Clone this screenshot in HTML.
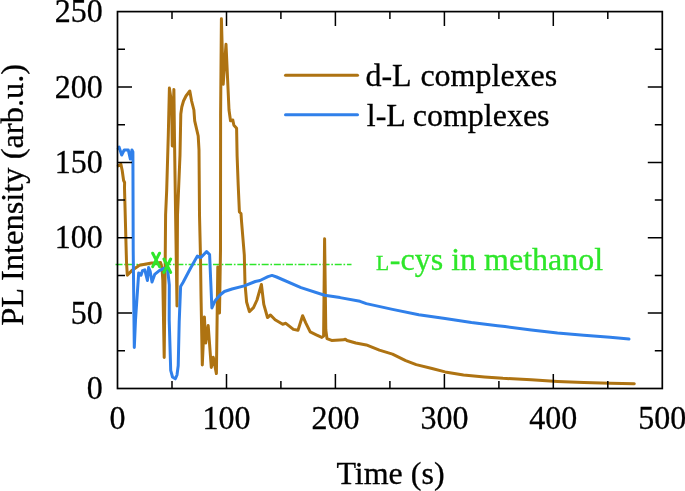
<!DOCTYPE html>
<html><head><meta charset="utf-8"><title>PL Intensity</title>
<style>
html,body{margin:0;padding:0;background:#fff;}
svg{display:block;will-change:transform;}
text{font-family:"Liberation Serif",serif;font-size:32px;fill:#000;stroke:#000;stroke-width:0.3px;}
</style></head><body>
<svg width="685" height="491" viewBox="0 0 685 491">
<rect width="685" height="491" fill="#fff"/>
<line x1="115.5" y1="264.55" x2="351.5" y2="264.55" stroke="#2ee62a" stroke-width="1.5" stroke-dasharray="7 1.75 1.65 1.78"/>
<polyline points="118.3,165.8 120.9,164.2 122.2,170.5 123.6,180.5 124.6,182.5 124.5,188.0 126.5,262.0 127.3,275.2 131.8,270.6 139.5,265.3 151.7,263.0 157.8,263.0 160.5,262.5 162.0,268.0 162.8,280.0 164.2,357.4 165.2,262.0 165.6,215.0 166.7,190.0 168.3,135.0 169.4,88.1 171.6,103.0 172.3,146.0 173.9,89.4 174.5,140.0 175.6,215.0 177.0,306.0 177.5,215.0 180.0,155.0 180.8,114.0 181.8,107.0 183.5,101.0 186.0,96.0 189.8,91.0 191.6,101.0 193.9,110.0 194.7,120.8 198.2,136.0 199.0,150.0 199.5,215.0 200.5,257.0 201.0,295.0 202.3,365.0 204.4,316.9 205.7,343.0 208.2,325.5 211.3,367.5 213.3,357.3 216.4,373.6 217.8,267.0 219.5,313.0 220.5,250.0 220.6,115.0 221.4,18.7 223.2,84.3 226.0,44.3 229.0,110.0 230.5,120.7 232.8,120.0 233.9,125.3 236.6,128.3 237.1,155.8 238.2,185.0 239.4,212.0 241.0,213.5 241.5,221.0 244.3,255.0 245.0,283.6 246.6,302.0 249.4,311.6 253.5,307.7 257.0,300.0 261.4,284.5 263.8,304.4 267.5,317.5 270.5,315.0 275.1,319.7 282.7,324.2 285.8,323.3 293.4,329.4 298.0,330.3 302.6,315.7 305.6,322.7 310.2,331.9 316.3,334.9 321.8,337.4 323.6,336.0 324.6,238.7 325.8,330.0 327.0,338.6 331.6,340.4 343.8,339.8 345.3,339.2 347.0,340.5 355.8,343.0 366.3,344.9 379.4,350.1 392.5,354.1 405.7,360.6 416.2,364.6 432.0,368.5 445.1,371.9 463.5,375.1 484.5,376.9 502.9,378.3 531.3,379.8 557.5,381.4 583.8,382.5 610.1,383.2 634.3,383.8" fill="none" stroke="#ae7312" stroke-width="3.0" stroke-linejoin="round" stroke-linecap="round"/>
<polyline points="118.3,148.5 119.1,147.1 121.7,155.0 124.2,150.0 128.3,150.0 130.3,159.0 131.9,150.0 132.9,152.0 133.2,250.0 134.3,347.5 135.5,320.0 138.7,272.9 141.0,275.2 142.5,270.6 144.8,269.8 147.4,280.5 148.6,267.6 150.2,271.4 152.0,282.0 154.7,274.4 159.3,270.6 163.9,268.3 167.7,269.8 169.3,285.0 169.2,320.0 170.7,370.4 172.5,377.0 175.3,378.8 177.0,375.0 178.2,365.8 179.2,322.0 180.6,286.6 183.0,282.5 190.5,268.3 197.4,256.1 200.9,257.6 206.6,251.5 209.6,254.6 210.7,280.5 211.9,308.0 215.3,300.4 220.0,295.0 224.4,291.5 232.0,289.0 244.3,285.9 255.3,281.5 260.0,280.5 268.0,276.6 272.0,275.4 276.6,277.0 301.0,287.6 324.6,295.2 340.0,297.6 360.0,301.3 366.3,303.6 392.5,309.4 418.8,314.7 445.1,318.6 471.4,322.5 497.6,325.7 505.0,326.5 531.3,329.9 557.5,333.1 583.8,335.2 610.1,337.3 629.0,339.1" fill="none" stroke="#3080ea" stroke-width="3.0" stroke-linejoin="round" stroke-linecap="round"/>
<path d="M152.7,253.2 L159.5,266.6 M159.5,253.2 L152.7,266.6" stroke="#2ee62a" stroke-width="3.0" stroke-linecap="round" fill="none"/>
<path d="M163.9,259.0 L170.7,272.4 M170.7,259.0 L163.9,272.4" stroke="#2ee62a" stroke-width="3.0" stroke-linecap="round" fill="none"/>
<rect x="117.5" y="11.6" width="544.8" height="376.9" fill="none" stroke="#000" stroke-width="1.7"/>
<path d="M172.0,388.5 v-7.5 M172.0,11.6 v7.5 M226.5,388.5 v-14.5 M226.5,11.6 v14.5 M280.9,388.5 v-7.5 M280.9,11.6 v7.5 M335.4,388.5 v-14.5 M335.4,11.6 v14.5 M389.9,388.5 v-7.5 M389.9,11.6 v7.5 M444.4,388.5 v-14.5 M444.4,11.6 v14.5 M498.9,388.5 v-7.5 M498.9,11.6 v7.5 M553.3,388.5 v-14.5 M553.3,11.6 v14.5 M607.8,388.5 v-7.5 M607.8,11.6 v7.5 M117.5,350.8 h7.5 M662.3,350.8 h-7.5 M117.5,313.1 h14.5 M662.3,313.1 h-14.5 M117.5,275.4 h7.5 M662.3,275.4 h-7.5 M117.5,237.7 h14.5 M662.3,237.7 h-14.5 M117.5,200.1 h7.5 M662.3,200.1 h-7.5 M117.5,162.4 h14.5 M662.3,162.4 h-14.5 M117.5,124.7 h7.5 M662.3,124.7 h-7.5 M117.5,87.0 h14.5 M662.3,87.0 h-14.5 M117.5,49.3 h7.5 M662.3,49.3 h-7.5" stroke="#000" stroke-width="1.5" fill="none"/>
<text transform="translate(117.5,429.3) scale(1,1.07)" text-anchor="middle">0</text>
<text transform="translate(226.5,429.3) scale(1,1.07)" text-anchor="middle">100</text>
<text transform="translate(335.4,429.3) scale(1,1.07)" text-anchor="middle">200</text>
<text transform="translate(444.4,429.3) scale(1,1.07)" text-anchor="middle">300</text>
<text transform="translate(553.3,429.3) scale(1,1.07)" text-anchor="middle">400</text>
<text transform="translate(662.3,429.3) scale(1,1.07)" text-anchor="middle">500</text>
<text transform="translate(102.8,399.1) scale(1,1.07)" text-anchor="end">0</text>
<text transform="translate(102.8,323.7) scale(1,1.07)" text-anchor="end">50</text>
<text transform="translate(102.8,248.3) scale(1,1.07)" text-anchor="end">100</text>
<text transform="translate(102.8,173.0) scale(1,1.07)" text-anchor="end">150</text>
<text transform="translate(102.8,97.6) scale(1,1.07)" text-anchor="end">200</text>
<text transform="translate(102.8,22.2) scale(1,1.07)" text-anchor="end">250</text>
<text x="390.5" y="483.9" text-anchor="middle">Time (s)</text>
<text transform="translate(23.2,194.8) rotate(-90)" text-anchor="middle" style="font-size:32.45px">PL Intensity (arb.u.)</text>
<line x1="285.5" y1="75.3" x2="357.5" y2="75.3" stroke="#ae7312" stroke-width="3.0" stroke-linecap="round"/>
<line x1="285.5" y1="114.7" x2="357.5" y2="114.7" stroke="#3080ea" stroke-width="3.0" stroke-linecap="round"/>
<text x="365.4" y="86.3">d-L<tspan dx="2"> complexes</tspan></text>
<text x="366.8" y="125.8">l-L complexes</text>
<text x="376.1" y="269.6" style="fill:#2ee62a;stroke:#2ee62a"><tspan style="font-size:21.5px">L</tspan><tspan dx="0.6">-cys</tspan> in methanol</text>
</svg></body></html>
